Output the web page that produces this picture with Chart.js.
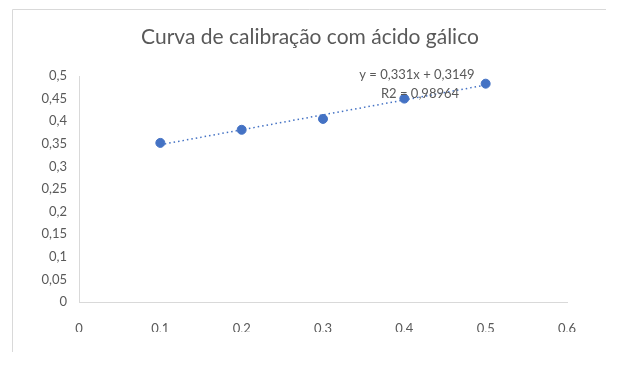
<!DOCTYPE html>
<html>
<head>
<meta charset="utf-8">
<script src="https://cdn.jsdelivr.net/npm/chart.js@4"></script>
<style>
  html, body { margin: 0; padding: 0; background: #fff; }
  #wrap { width: 622px; height: 369px; }
</style>
</head>
<body>
<div id="wrap"><canvas id="calibChart" width="622" height="369"></canvas></div>
<script>
  const concentracao = [0.1, 0.2, 0.3, 0.4, 0.5];
  const absorbancia = [0.352, 0.381, 0.405, 0.450, 0.483];
  const trendX = [0.1, 0.5];
  const trendY = [0.348, 0.480];
  const xTickLabels = ['0', '0,1', '0,2', '0,3', '0,4', '0,5', '0,6'];
  const yTickLabels = ['0', '0,05', '0,1', '0,15', '0,2', '0,25', '0,3', '0,35', '0,4', '0,45', '0,5'];
  const titulo = 'Curva de calibração com ácido gálico';
  const equacao = ['y = 0,331x + 0,3149', 'R2 = 0,98964'];

  const fontFam = 'Lato, "Noto Sans", sans-serif';
  const textColor = '#595959';
  const lineColor = '#d9d9d9';
  const blue = '#4472c4';

  // frame, title and trendline label
  const decor = {
    id: 'decor',
    beforeDraw(chart) {
      const ctx = chart.ctx;
      ctx.save();
      ctx.strokeStyle = lineColor;
      ctx.lineWidth = 1;
      ctx.beginPath();
      ctx.moveTo(12.5, 352);
      ctx.lineTo(12.5, 9.5);
      ctx.lineTo(606, 9.5);
      ctx.stroke();
      ctx.restore();
    },
    afterDraw(chart) {
      const ctx = chart.ctx;
      ctx.save();
      ctx.fillStyle = textColor;
      ctx.textAlign = 'center';
      ctx.textBaseline = 'alphabetic';
      ctx.font = '21px ' + fontFam;
      ctx.fillText(titulo, 310, 44);
      ctx.font = '13px ' + fontFam;
      ctx.fillText(equacao[0], 417, 79);
      ctx.fillText(equacao[1], 420, 98);
      ctx.restore();
    }
  };

  const ctx = document.getElementById('calibChart').getContext('2d');
  new Chart(ctx, {
    type: 'scatter',
    data: {
      datasets: [
        {
          label: 'pontos',
          data: concentracao.map((x, i) => ({ x: x, y: absorbancia[i] })),
          backgroundColor: blue,
          borderColor: blue,
          pointRadius: 4.5,
          pointHoverRadius: 4.5,
          order: 1
        },
        {
          label: 'tendencia',
          type: 'line',
          data: trendX.map((x, i) => ({ x: x, y: trendY[i] })),
          borderColor: blue,
          borderWidth: 1.5,
          borderDash: [1.5, 3],
          pointRadius: 0,
          fill: false,
          order: 2
        }
      ]
    },
    options: {
      responsive: false,
      animation: false,
      layout: { padding: { left: 19, right: 55, top: 76, bottom: 37 } },
      plugins: {
        legend: { display: false },
        title: { display: false },
        tooltip: { enabled: false }
      },
      scales: {
        x: {
          type: 'linear',
          min: 0,
          max: 0.6,
          afterFit: s => { s.height = 30; },
          grid: { display: false, drawTicks: false },
          border: { display: true, color: lineColor, width: 1 },
          ticks: {
            stepSize: 0.1,
            padding: 19,
            color: textColor,
            font: { family: fontFam, size: 13 },
            callback: (v, i) => xTickLabels[i]
          }
        },
        y: {
          min: 0,
          max: 0.5,
          afterFit: s => { s.width = 60; },
          grid: { display: false, drawTicks: false },
          border: { display: true, color: lineColor, width: 1 },
          ticks: {
            stepSize: 0.05,
            padding: 12,
            color: textColor,
            font: { family: fontFam, size: 13 },
            callback: (v, i) => yTickLabels[i]
          }
        }
      }
    },
    plugins: [decor]
  });
</script>
</body>
</html>
